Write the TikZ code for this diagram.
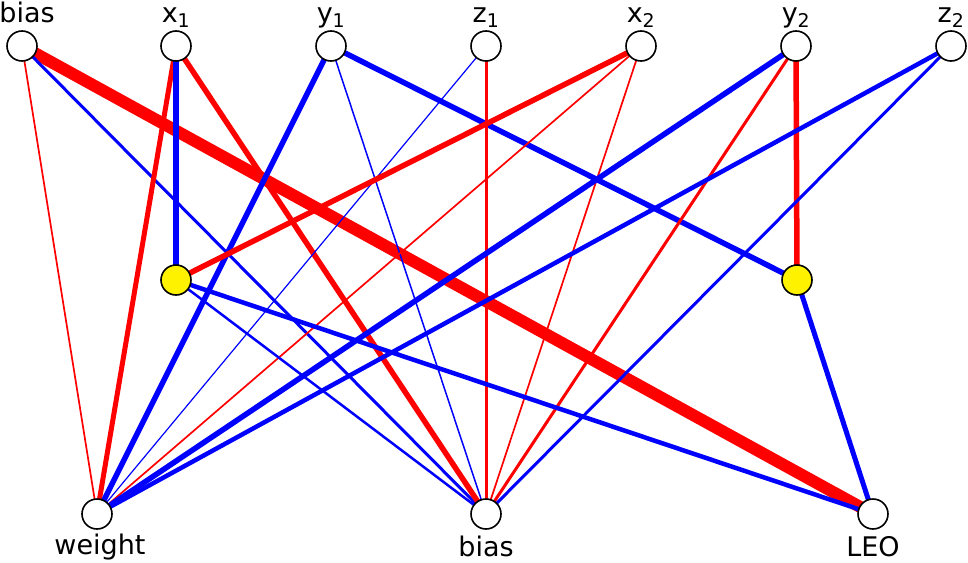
\documentclass[tikz,border=0pt]{standalone}
\usepackage{fontspec}
\setmainfont{DejaVu Sans}
\usetikzlibrary{backgrounds}

\begin{document}
\begin{tikzpicture}[x=1pt,y=-1pt,
  unit/.style={circle,draw=black,line width=1.6pt,fill=white,minimum size=30pt,inner sep=0pt},
  hid/.style={unit,fill=yellow},
  lbl/.style={anchor=base,inner sep=0pt,font=\fontsize{27}{31}\selectfont}]
\useasboundingbox (0,0) rectangle (968,562);
% input layer
\node[unit] (b) at (22,46) {};
\node[lbl] (lb) at (27,22) {bias};
\foreach \n/\x/\t in {x1/176/{x\textsubscript{1}},y1/331/{y\textsubscript{1}},z1/486/{z\textsubscript{1}},
                      x2/641/{x\textsubscript{2}},y2/796/{y\textsubscript{2}},z2/951/{z\textsubscript{2}}}{
  \node[unit] (\n) at (\x,46) {};
  \node[lbl] (l\n) at (\x,22) {\t};
}
% hidden units
\node[hid] (h1) at (176,280) {};
\node[hid] (h2) at (797,280) {};
% output layer
\node[unit] (w) at (97,514) {};
\node[lbl] (lw) at (100,554) {weight};
\node[unit] (bo) at (486,514) {};
\node[lbl] (lbo) at (486,556) {bias};
\node[unit] (leo) at (873,514) {};
\node[lbl] (lleo) at (873,556) {LEO};
% weights
\begin{pgfonlayer}{background}
\foreach \a/\b/\c/\w in {b/leo/red/12, b/w/red/1.7, b/bo/blue/3, x1/w/red/5, x1/h1/blue/5.5, x1/bo/red/5.5,
    y1/w/blue/5.5, y1/bo/blue/1.5, y1/h2/blue/5.5, z1/w/blue/1.2, z1/bo/red/3,
    x2/h1/red/5.5, x2/w/red/1.7, x2/bo/red/1.7, y2/w/blue/5.5, y2/bo/red/3, y2/h2/red/5.5,
    z2/w/blue/4.5, z2/bo/blue/3, h1/bo/blue/2.5, h1/leo/blue/4.5, h2/leo/blue/5}
  \draw[color=\c, line width=\w pt] (\a.center) -- (\b.center);
\end{pgfonlayer}
\end{tikzpicture}
\end{document}
